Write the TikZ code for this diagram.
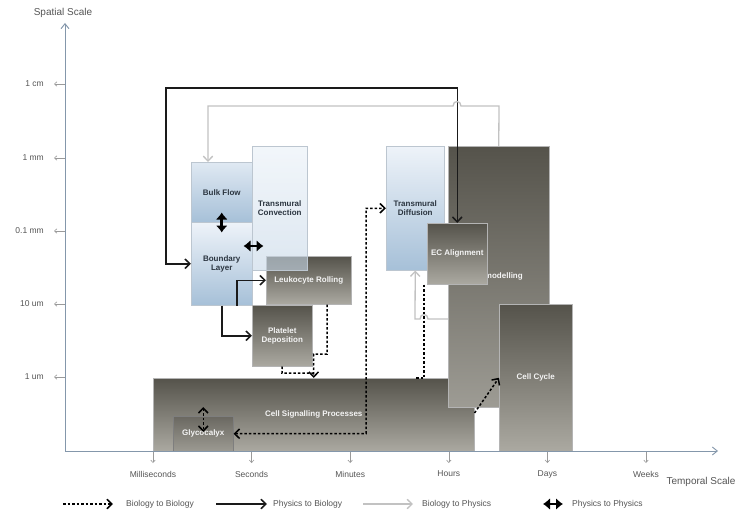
\documentclass[tikz,border=0pt]{standalone}
\usepackage{fontspec}
\setmainfont{Liberation Sans}
\usetikzlibrary{arrows.meta}
\definecolor{bluetop}{HTML}{EEF3F9}
\definecolor{bluebot}{HTML}{A6C0D8}
\definecolor{convtop}{HTML}{EAF1F8}
\definecolor{convbot}{HTML}{C6D7E7}
\definecolor{bluedraw}{HTML}{BCC6D0}
\definecolor{bluetext}{HTML}{2B3540}
\definecolor{graytop}{HTML}{55534B}
\definecolor{graybot}{HTML}{ABA9A1}
\definecolor{graydraw}{HTML}{B4B4B4}
\definecolor{graytext}{HTML}{F4F4F4}
\definecolor{axiscol}{HTML}{8497AB}
\definecolor{tickcol}{HTML}{9A9A9A}
\definecolor{labcol}{HTML}{555555}
\definecolor{b2pcol}{HTML}{C2C2C2}
\definecolor{p2bcol}{HTML}{1A1A1A}
\definecolor{glytop}{HTML}{6A6861}
\definecolor{glybot}{HTML}{9C9A92}
\begin{document}
\begin{tikzpicture}[x=1pt,y=-1pt,
  box/.style={anchor=north west, inner sep=0pt, line width=0.5pt,
    font=\bfseries\fontsize{8}{9.5}\selectfont, align=center},
  bluebox/.style={box, draw=bluedraw, top color=bluetop, bottom color=bluebot, text=bluetext},
  graybox/.style={box, draw=graydraw, top color=graytop, bottom color=graybot, text=graytext},
  bio2bio/.style={line width=1.5pt, black, dash pattern=on 2.5pt off 2pt},
  phys2bio/.style={line width=1.5pt, p2bcol},
  bio2phys/.style={line width=1.3pt, b2pcol},
  p2p/.style={line width=2.6pt, black, {Latex[length=7pt,width=12pt]}-{Latex[length=7pt,width=12pt]}},
  axisline/.style={line width=0.9pt, axiscol, -{Straight Barb[length=5pt,width=8pt]}},
  tickarr/.style={line width=0.6pt, tickcol, -{Straight Barb[length=2.5pt,width=4.5pt]}},
  ticklab/.style={font=\fontsize{8.5}{10}\selectfont, text=labcol, inner sep=0pt},
  axtitle/.style={font=\fontsize{10}{12}\selectfont, text=labcol, inner sep=0pt},
  legtext/.style={font=\fontsize{8.5}{10}\selectfont, text=labcol, inner sep=0pt, anchor=west},
  >={Straight Barb[length=5pt,width=9.5pt]}
]
\useasboundingbox[fill=white] (0,0) rectangle (742,516);

% ---------------- boxes ----------------
\node[graybox, minimum width=321pt, minimum height=73pt] (csig) at (153,378) {Cell Signalling Processes};
\node[graybox, minimum width=60pt, minimum height=35pt, draw=graydraw!70!black, top color=glytop, bottom color=glybot] (glyco) at (173,416) {Glycocalyx};
\node[bluebox, minimum width=61pt, minimum height=60pt, top color=bluetop!80!bluebot] (bulk) at (191,162) {Bulk Flow};
\node[bluebox, minimum width=61pt, minimum height=83pt] (blayer) at (191,222) {Boundary\\Layer};
\node[graybox, minimum width=85pt, minimum height=48pt] (leuko) at (266,256) {Leukocyte Rolling};
\node[bluebox, minimum width=55pt, minimum height=124pt, top color=convtop, bottom color=convbot,
      fill opacity=0.6, text opacity=1, draw opacity=1] (conv) at (252,146) {Transmural\\Convection};
\node[graybox, minimum width=60pt, minimum height=61pt] (plat) at (252,305) {Platelet\\Deposition};
\node[bluebox, minimum width=58pt, minimum height=124pt] (tdiff) at (386,146) {Transmural\\Diffusion};
\node[graybox, minimum width=101pt, minimum height=261pt, bottom color=graybot!92!black] (remod) at (448,146) {Remodelling};
\node[graybox, minimum width=73pt, minimum height=147pt] (ccyc) at (499,304) {Cell Cycle};
\node[graybox, minimum width=60pt, minimum height=61pt] (ecal) at (427,223) {EC Alignment};

% ---------------- axes ----------------
\coordinate (O) at (65,451);
\coordinate (ytop) at (65,23);
\coordinate (xend) at (718,451);
\draw[axisline] (O) -- (ytop);
\draw[axisline] (O) -- (xend);
\foreach \y/\t [count=\i] in {84/1 cm,158/1 mm,231/0.1 mm,304/10 um,377/1 um}{
  \draw[tickarr] (65,\y) -- (54,\y);
  \node[ticklab, anchor=east] (yl\i) at (44,\y) {\t};
}
\foreach \x/\t [count=\i] in {153/Milliseconds,251.6/Seconds,350.2/Minutes,448.8/Hours,547.4/Days,646/Weeks}{
  \draw[tickarr] (\x,452) -- (\x,463);
  \node[ticklab] (xl\i) at (\x,474) {\t};
}
\node[axtitle] (ytitle) at (63,13) {Spatial Scale};
\node[axtitle] (xtitle) at (701,482) {Temporal Scale};

% ---------------- connectors ----------------
% physics to biology
\draw[phys2bio,<->] (blayer.west) -| (166,88) -| (ecal.north);
\draw[phys2bio,->] (blayer.south -| 237,0) |- (leuko.west);
\draw[phys2bio,->] (blayer.south) |- (plat.west);
% biology to physics
\draw[bio2phys,->] (remod.north) -- (499,106) -- (461,106) .. controls (461,100) and (453,100) .. (453,106) -- (208,106) -- (bulk.north -| 208,0);
\draw[bio2phys,->] (remod.west |- 0,319) -- (428,319) .. controls (428,313) and (420,313) .. (420,319) -- (415,319) -- (tdiff.south);
% biology to biology
\draw[bio2bio,->] (leuko.south -| 327,0) -- (327,354) -- (313.5,354) -- (csig.north);
\draw[bio2bio] (plat.south) -- (282,373) -- (313.5,373);
\draw[bio2bio,<->] (glyco.east) -- (366,433.5) |- (tdiff.west);
\draw[bio2bio,<->] ([yshift=9pt]glyco.north) -- ([yshift=-16pt]glyco.north);
\draw[bio2bio] (ecal.south -| 424,0) -- (csig.north -| 424,0) -- (416,378);
\draw[bio2bio,->] (csig.east |- 0,413) -- (ccyc.west);
% physics to physics
\draw[p2p] ([yshift=10pt]bulk.south) -- ([yshift=-10pt]bulk.south);
\draw[p2p] (blayer.east |- 0,246) ++(-9,0) -- ++(20,0);

% ---------------- legend ----------------
\coordinate (la1) at (63,504);  \coordinate (lb1) at (113,504);
\coordinate (la2) at (216,504); \coordinate (lb2) at (267,504);
\coordinate (la3) at (363,504); \coordinate (lb3) at (413,504);
\coordinate (la4) at (543,504); \coordinate (lb4) at (563,504);
\draw[bio2bio,->] (la1) -- (lb1);
\draw[phys2bio,->] (la2) -- (lb2);
\draw[bio2phys,->] (la3) -- (lb3);
\draw[p2p] (la4) -- (lb4);
\node[legtext] (lt1) at (126,504) {Biology to Biology};
\node[legtext] (lt2) at (273,504) {Physics to Biology};
\node[legtext] (lt3) at (422,504) {Biology to Physics};
\node[legtext] (lt4) at (572,504) {Physics to Physics};
\end{tikzpicture}
\end{document}
